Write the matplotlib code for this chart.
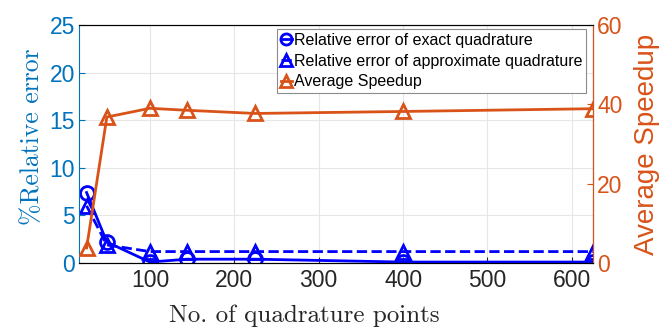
import numpy as np
import matplotlib.pyplot as plt

plt.rcParams['font.family'] = ['Liberation Sans', 'DejaVu Sans']
plt.rcParams['axes.unicode_minus'] = False

# data
n_points = [25, 49, 100, 144, 225, 400, 625]
err_exact = [7.4, 2.2, 0.1, 0.4, 0.4, 0.1, 0.1]
err_approx = [6.0, 1.9, 1.2, 1.2, 1.2, 1.2, 1.2]
speedup = [3.8, 36.8, 39.0, 38.5, 37.7, 38.2, 38.9]

x_ticks = [100, 200, 300, 400, 500, 600]
left_ticks = [0, 5, 10, 15, 20, 25]
right_ticks = [0, 20, 40, 60]

c_left = (0, 0.447, 0.741)
c_right = (0.85, 0.325, 0.098)
c_dark = '#262626'

fig = plt.figure(figsize=(6.64, 3.34), dpi=100)
ax = fig.add_axes([79/664, 1 - 263/334, (593 - 79)/664, (263 - 25)/334])
ax2 = ax.twinx()

l1, = ax.plot(n_points, err_exact, '-o', color='b', lw=2, ms=10, mfc='none', mew=2,
              label='Relative error of exact quadrature')
l2, = ax.plot(n_points, err_approx, '--^', color='b', lw=2, ms=10, mfc='none', mew=2,
              label='Relative error of approximate quadrature')
l3, = ax2.plot(n_points, speedup, '-^', color=c_right, lw=2, ms=10, mfc='none', mew=2,
               label='Average Speedup')

ax.set_xlim(16, 625)
ax.set_ylim(0, 25)
ax2.set_ylim(0, 60)
ax.set_xticks(x_ticks)
ax.set_yticks(left_ticks)
ax2.set_yticks(right_ticks)

ax.grid(True, color='#e6e6e6', lw=0.8)
ax.set_axisbelow(True)

ax.tick_params(axis='y', direction='in', labelsize=16.5, colors=c_left, length=4, pad=3)
ax.tick_params(axis='x', direction='in', labelsize=16.5, colors=c_dark, length=4, pad=4)
ax2.tick_params(direction='in', labelsize=16.5, colors=c_right, length=4, pad=3)
ax.spines['left'].set_color(c_left)
ax.spines['bottom'].set_color(c_dark)
ax.spines['top'].set_color(c_dark)
ax2.spines['right'].set_color(c_right)
ax2.spines['left'].set_visible(False)

ax.set_xlabel('No. of quadrature points', fontsize=18, color=c_dark, family='cmr10')
ax.xaxis.set_label_coords(0.438, -0.175)
ax.set_ylabel('%Relative error', fontsize=18.5, color=c_left, family='cmr10')
ax.yaxis.set_label_coords(-0.068, 0.53)
ax2.set_ylabel('Average Speedup', fontsize=20, color=c_right)
ax2.yaxis.set_label_coords(1.08, 0.5)

leg = ax.legend(handles=[l1, l2, l3], loc='upper left', bbox_to_anchor=(0.385, 0.983),
                fontsize=11.5, handlelength=0.7, handletextpad=0.1, borderpad=0.25,
                labelspacing=0.35, fancybox=False, framealpha=1, borderaxespad=0,
                markerscale=0.8)
leg.get_frame().set_edgecolor('#8c8c8c')
leg.get_frame().set_linewidth(0.8)

fig.savefig('out.png', dpi=100)
